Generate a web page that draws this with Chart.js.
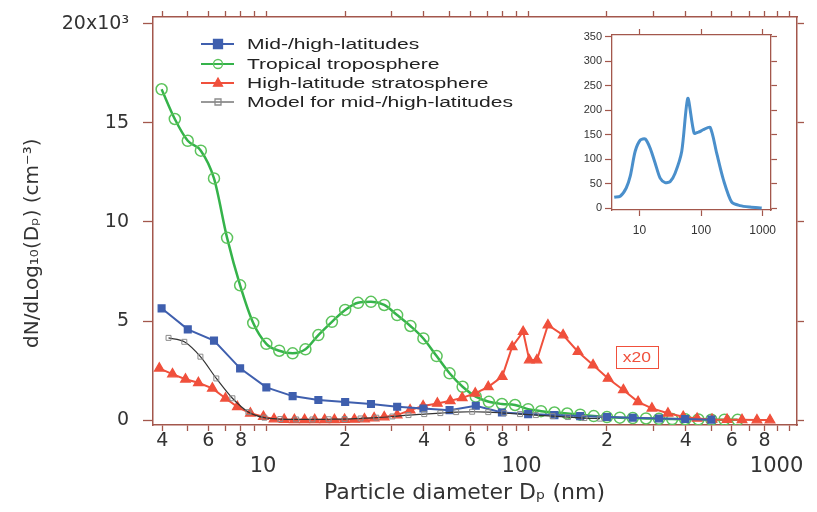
<!DOCTYPE html>
<html><head><meta charset="utf-8">
<script src="https://cdn.jsdelivr.net/npm/chart.js@4"></script>
<style>
html,body{margin:0;padding:0;background:#fff;}
#wrap{position:relative;width:817px;height:512px;overflow:hidden;}
#main{position:absolute;left:0;top:0;}
#inset{position:absolute;left:560px;top:20px;}
</style></head><body>
<div id="wrap"><canvas id="main" width="817" height="512"></canvas><canvas id="inset" width="240" height="215"></canvas></div>
<script>
// ---------- data (particle diameter in nm, concentration in 10^3 cm^-3) ----------
const greenD = [3.98,4.47,5.01,5.62,6.31,7.08,7.94,8.91,10,11.2,12.6,14.1,15.8,17.8,20.0,22.4,25.1,28.2,31.6,35.5,39.8,44.7,50.1,56.2,63.1,70.8,79.4,89.1,100,112,126,141,158,178,200,224,251,282,316,355,398,447,501,562,631];
const greenV = [16.7,15.2,14.1,13.6,12.2,9.2,6.8,4.9,3.85,3.5,3.37,3.57,4.29,4.96,5.56,5.92,5.97,5.81,5.3,4.75,4.12,3.23,2.36,1.68,1.18,0.92,0.81,0.76,0.55,0.45,0.38,0.33,0.27,0.2,0.15,0.12,0.1,0.08,0.06,0.05,0.04,0.03,0.02,0.02,0.01];

const blueD = [3.98,5.01,6.31,7.94,10,12.6,15.8,20.0,25.1,31.6,39.8,50.1,63.1,79.4,100,126,158,200,251,316,398,501];
const blueV = [5.64,4.58,4.01,2.61,1.65,1.21,1.01,0.91,0.81,0.67,0.58,0.5,0.72,0.38,0.3,0.25,0.2,0.15,0.12,0.08,0.05,0.02];

const redD = [3.9,4.38,4.91,5.5,6.22,6.98,7.75,8.69,9.74,10.7,11.7,12.8,14.0,15.3,16.7,18.2,19.9,21.7,23.7,25.8,28.2,31.6,35.4,39.7,45.0,50.4,56.0,62.8,70.4,79.6,86.9,95.7,101,108,119,136,155,177,202,231,263,297,342,391,442,504,575,656,748,839];
const redV = [2.61,2.32,2.06,1.88,1.6,1.1,0.67,0.34,0.17,0.05,0.02,0.01,0.01,0.01,0.01,0.01,0.02,0.03,0.05,0.1,0.15,0.25,0.5,0.71,0.84,0.97,1.12,1.35,1.68,2.19,3.7,4.46,3.03,3.03,4.8,4.29,3.45,2.78,2.1,1.52,0.92,0.59,0.34,0.17,0.08,0.03,0.02,0.01,0.0,0.0];

const modelD = [4.23,4.86,5.6,6.44,7.42,8.54,9.83,11.3,13.0,15.0,17.3,19.9,22.9,26.3,30.3,34.9,40.1,46.2,53.1,61.1,70.4,81.0,93.1,107,124,142,164,188];
const modelV = [4.15,3.95,3.2,2.1,1.1,0.4,0.12,0.05,0.03,0.03,0.04,0.05,0.08,0.12,0.18,0.25,0.3,0.35,0.4,0.42,0.4,0.35,0.3,0.25,0.2,0.15,0.1,0.07];

const insetD = [3.88,4.85,6.08,7.06,8.5,10.3,12.4,14.9,17.9,21.6,26,31.4,37.8,48.5,60.8,76.9,90.6,109,140,179,230,314,429,623,964];
const insetV = [22,24,41,65,116,139,141,122,92,61,52,54,71,116,224,153,155,160,165,112,58,12,5,2,0];

const seriesNames = ['Mid-/high-latitudes','Tropical troposphere','High-latitude stratosphere','Model for mid-/high-latitudes'];
const xTickValues = [4,5,6,7,8,9,10,20,30,40,50,60,70,80,90,100,200,300,400,500,600,700,800,900,1000];
const xTickText = {4:'4',6:'6',8:'8',20:'2',40:'4',60:'6',80:'8',200:'2',400:'4',600:'6',800:'8'};
const xDecadeText = {10:'10 ',100:'100  ',1000:'1000    '};
const yTickValues = [0,5,10,15,20];
const insetXTicks = [10,100,1000];
const insetYTicks = [0,50,100,150,200,250,300,350];

// ---------- styling ----------
const FONT = "'Liberation Sans', Arial, Helvetica, sans-serif";
const WIDE = "'DejaVu Sans', 'Liberation Sans', sans-serif";
const FRAME = '#a3574c';
const TXT = '#333';
const BLUE = '#3f5fae', GREEN = '#35b34a', RED = '#f0503c', MODEL = '#333', MODELPT = '#8a8a8a';

const pts = (D, V) => D.map((d, i) => ({x: d, y: V[i]}));

const styles = [
  {color: BLUE, pt: 'rect', fill: BLUE, r: 4.8, lw: 2},
  {color: GREEN, pt: 'circle', fill: 'rgba(0,0,0,0)', r: 5.5, lw: 2.5, ptc: '#5cc35c'},
  {color: RED, pt: 'triangle', fill: RED, r: 5.5, lw: 2},
  {color: MODEL, pt: 'rect', fill: 'rgba(255,255,255,0)', r: 3.5, lw: 1.2, ptc: MODELPT}
];

function drawMarker(ctx, type, x, y, r, stroke, fill, lw){
  ctx.save();
  ctx.lineWidth = lw; ctx.strokeStyle = stroke; ctx.fillStyle = fill;
  ctx.beginPath();
  if (type === 'rect'){ ctx.rect(x - r, y - r, 2*r, 2*r); }
  else if (type === 'circle'){ ctx.arc(x, y, r, 0, Math.PI*2); }
  else if (type === 'triangle'){ ctx.moveTo(x, y - r*1.1); ctx.lineTo(x + r, y + r*0.7); ctx.lineTo(x - r, y + r*0.7); ctx.closePath(); }
  ctx.fill(); ctx.stroke();
  ctx.restore();
}

// stretched text (the reference lettering is wide)
function wideText(ctx, text, x, y, sx, font, color, align){
  ctx.save();
  ctx.translate(x, y); ctx.scale(sx, 1);
  ctx.font = font; ctx.fillStyle = color; ctx.textBaseline = 'middle'; ctx.textAlign = align;
  ctx.fillText(text, 0, 0);
  ctx.restore();
}

const annotPlugin = {
  id: 'annot',
  afterDraw(chart){
    const ctx = chart.ctx;
    ctx.save();
    // legend
    const rows = [44, 64, 83, 102];
    seriesNames.forEach((name, i) => {
      const s = styles[i];
      ctx.strokeStyle = s.color; ctx.lineWidth = i === 3 ? 1 : 2;
      ctx.beginPath(); ctx.moveTo(201, rows[i]); ctx.lineTo(234, rows[i]); ctx.stroke();
      drawMarker(ctx, s.pt, 218, rows[i], i === 3 ? 3 : 4.5, s.ptc || s.color, s.fill, 1.3);
      wideText(ctx, name, 247, rows[i] + 1, 1.36, '15.5px ' + FONT, '#222', 'left');
    });
    // x20 annotation
    const xs = chart.scales.x, ys = chart.scales.y;
    const cx = xs.getPixelForValue(260), cy = ys.getPixelForValue(3.2);
    ctx.strokeStyle = RED; ctx.lineWidth = 1;
    ctx.strokeRect(Math.round(cx - 21) + 0.5, Math.round(cy - 11) + 0.5, 42, 22);
    wideText(ctx, 'x20', cx, cy + 1, 1.25, '14px ' + FONT, RED, 'center');
    ctx.restore();
  }
};

const mkDataset = (label, D, V, i, extra) => Object.assign({
  label, data: pts(D, V),
  borderColor: styles[i].color, borderWidth: styles[i].lw,
  pointStyle: styles[i].pt, pointRadius: styles[i].r,
  pointBackgroundColor: styles[i].fill, pointBorderColor: styles[i].ptc || styles[i].color,
  pointBorderWidth: 1.3, fill: false
}, extra || {});

const setTicks = vals => s => { s.ticks = vals.map(v => ({value: v})); };
const blankTicks = {autoSkip: false, maxRotation: 0, callback: () => ''};
const fixH = h => s => { s.height = h; s.paddingLeft = 0; s.paddingRight = 0; };
const fixW = w => s => { s.width = w; s.paddingTop = 0; s.paddingBottom = 0; };

new Chart(document.getElementById('main'), {
  type: 'line',
  data: {
    datasets: [
      mkDataset(seriesNames[3], modelD, modelV, 3, {tension: 0.4, cubicInterpolationMode: 'monotone', pointBorderWidth: 1}),
      mkDataset(seriesNames[0], blueD, blueV, 0, {tension: 0}),
      mkDataset(seriesNames[2], redD, redV, 2, {tension: 0}),
      mkDataset(seriesNames[1], greenD, greenV, 1, {tension: 0.4, cubicInterpolationMode: 'monotone', pointBorderWidth: 1.5}),
    ]
  },
  options: {
    responsive: false, animation: false, devicePixelRatio: 1,
    layout: {padding: 0},
    plugins: {legend: {display: false}, tooltip: {enabled: false}},
    scales: {
      x: {
        type: 'logarithmic', position: 'bottom', min: 3.69, max: 1064,
        afterBuildTicks: setTicks(xTickValues),
        afterFit: fixH(87),
        ticks: {autoSkip: false, maxRotation: 0, minRotation: 0, padding: -2, color: TXT,
          font: c => ({family: WIDE, size: (c.tick && xDecadeText[c.tick.value]) ? 21 : 19, lineHeight: '25px'}),
          callback: v => xDecadeText[v] ? ['', xDecadeText[v]] : (xTickText[v] || '')},
        grid: {drawOnChartArea: false, tickLength: 6, tickColor: FRAME, tickWidth: 1.3},
        border: {color: FRAME, width: 1.5},
        title: {display: true, text: 'Particle diameter Dₚ (nm)   ', color: TXT,
          font: {family: WIDE, size: 22}, padding: {top: 0, bottom: 6}}
      },
      x2: {
        type: 'logarithmic', position: 'top', min: 3.69, max: 1064,
        afterBuildTicks: setTicks(xTickValues),
        afterFit: fixH(17),
        ticks: blankTicks,
        grid: {drawOnChartArea: false, tickLength: 6, tickColor: FRAME, tickWidth: 1.3},
        border: {color: FRAME, width: 1.5}
      },
      y: {
        type: 'linear', position: 'left', min: -0.25, max: 20.35,
        afterBuildTicks: setTicks(yTickValues),
        afterFit: fixW(153),
        ticks: {color: TXT, padding: 14, font: {family: WIDE, size: 19},
          callback: v => v === 20 ? '20x10³' : String(v)},
        grid: {drawOnChartArea: false, tickLength: 10, tickColor: FRAME, tickWidth: 1.3},
        border: {color: FRAME, width: 1.5},
        title: {display: true, text: 'dN/dLog₁₀(Dₚ) (cm⁻³)       ', color: TXT,
          font: {family: WIDE, size: 20}, padding: {top: 21, bottom: 0}}
      },
      y2: {
        type: 'linear', position: 'right', min: -0.25, max: 20.35,
        afterBuildTicks: setTicks(yTickValues),
        afterFit: fixW(20),
        ticks: blankTicks,
        grid: {drawOnChartArea: false, tickLength: 7, tickColor: FRAME, tickWidth: 1.3},
        border: {color: FRAME, width: 1.5}
      }
    }
  },
  plugins: [annotPlugin]
});

// ---------- inset ----------
const insetFont = {family: FONT, size: 11};
new Chart(document.getElementById('inset'), {
  type: 'line',
  data: {datasets: [{data: pts(insetD, insetV), borderColor: '#4a8fcb', borderWidth: 3,
    pointRadius: 0, tension: 0.25, fill: false}]},
  options: {
    responsive: false, animation: false, devicePixelRatio: 1,
    layout: {padding: 0},
    plugins: {legend: {display: false}, tooltip: {enabled: false}},
    scales: {
      x: {type: 'logarithmic', position: 'bottom', min: 3.57, max: 1365,
        afterBuildTicks: setTicks(insetXTicks), afterFit: fixH(25),
        ticks: {autoSkip: false, maxRotation: 0, padding: 7, color: TXT, font: {family: FONT, size: 12},
          callback: v => String(v)},
        grid: {drawOnChartArea: false, tickLength: 6, tickColor: FRAME, tickWidth: 1.2},
        border: {color: FRAME, width: 1.3}},
      x2: {type: 'logarithmic', position: 'top', min: 3.57, max: 1365,
        afterBuildTicks: setTicks(insetXTicks), afterFit: fixH(15),
        ticks: blankTicks,
        grid: {drawOnChartArea: false, tickLength: 6, tickColor: FRAME, tickWidth: 1.2},
        border: {color: FRAME, width: 1.3}},
      y: {type: 'linear', position: 'left', min: -4, max: 353.5,
        afterBuildTicks: setTicks(insetYTicks), afterFit: fixW(52),
        ticks: {color: TXT, padding: 3, font: insetFont},
        grid: {drawOnChartArea: false, tickLength: 7, tickColor: FRAME, tickWidth: 1.2},
        border: {color: FRAME, width: 1.3}},
      y2: {type: 'linear', position: 'right', min: -4, max: 353.5,
        afterBuildTicks: setTicks(insetYTicks), afterFit: fixW(29),
        ticks: blankTicks,
        grid: {drawOnChartArea: false, tickLength: 6, tickColor: FRAME, tickWidth: 1.2},
        border: {color: FRAME, width: 1.3}}
    }
  }
});
</script>
</body></html>
